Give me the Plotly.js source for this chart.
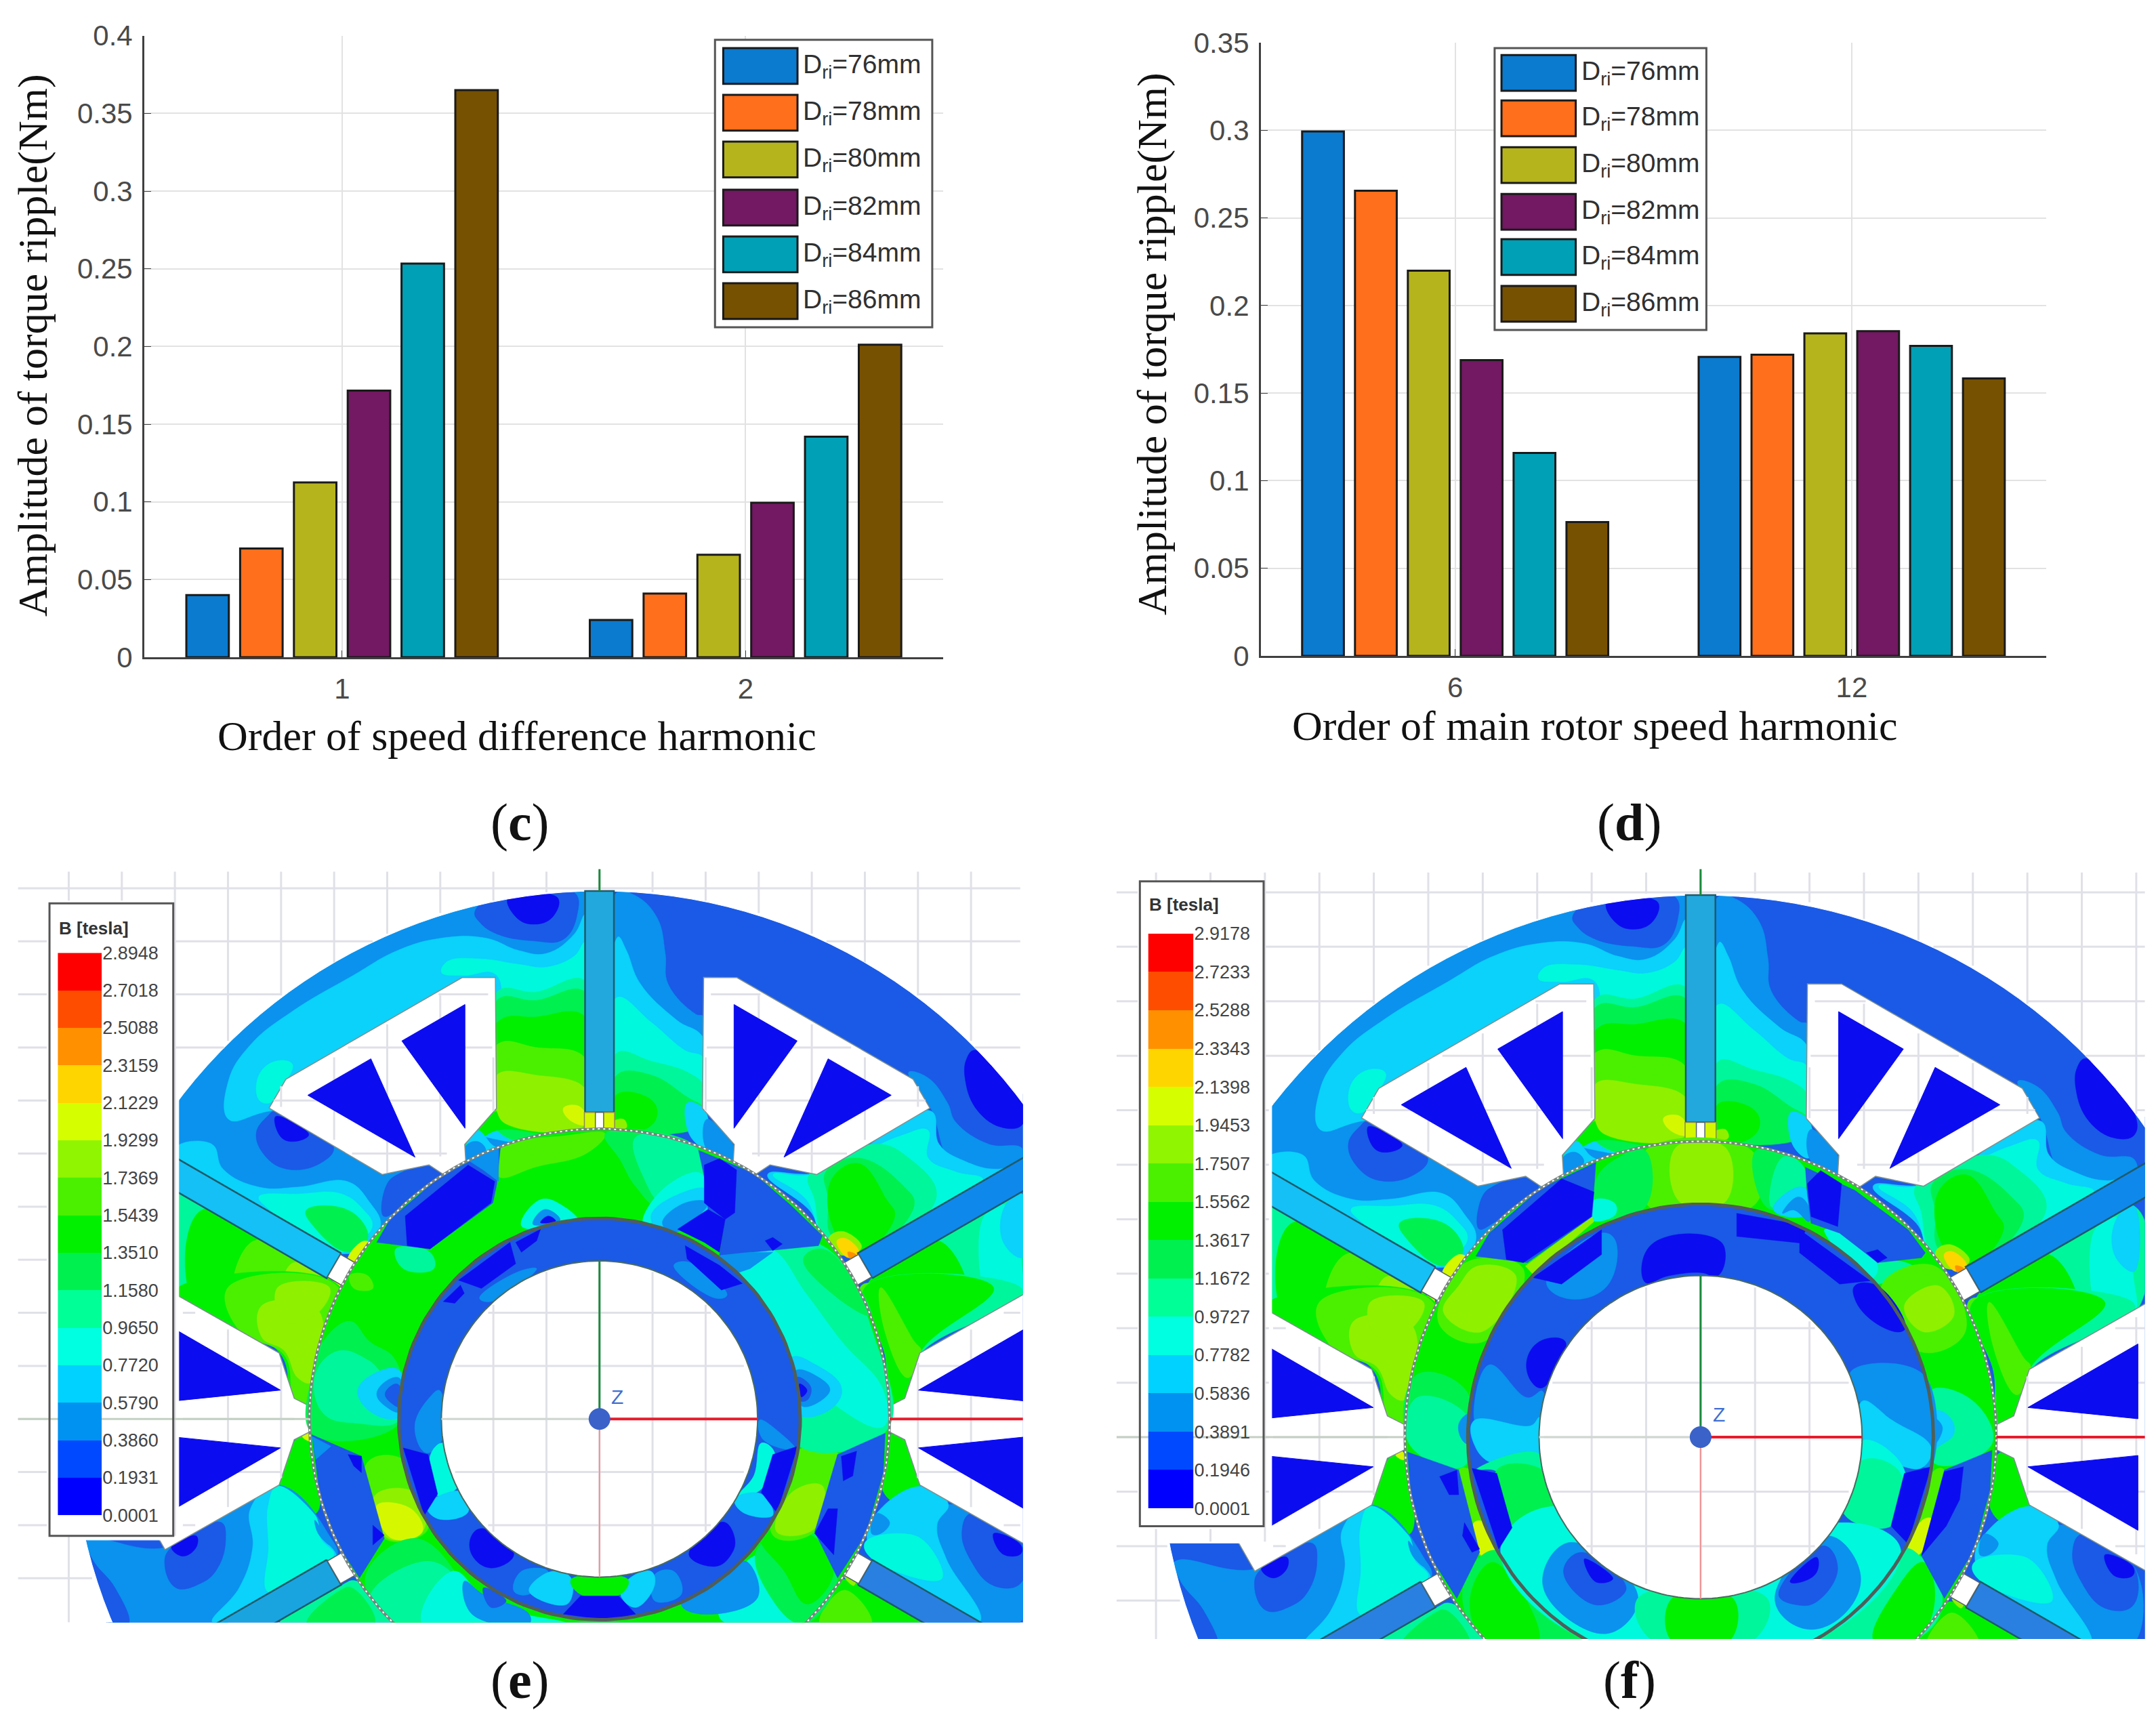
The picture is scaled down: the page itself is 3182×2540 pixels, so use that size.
<!DOCTYPE html>
<html>
<head>
<meta charset="utf-8">
<script src="https://cdn.plot.ly/plotly-3.0.1.min.js"></script>
<style>body{margin:0;background:#fff}</style>
</head>
<body>
<div id="chart" style="width:3182px;height:2540px"></div>
<script>
// bar charts
const driLabels=['D<sub>ri</sub>=76mm','D<sub>ri</sub>=78mm','D<sub>ri</sub>=80mm','D<sub>ri</sub>=82mm','D<sub>ri</sub>=84mm','D<sub>ri</sub>=86mm'];
const barColors=['#0a7bcf','#ff6f1c','#b6b41d','#731862','#00a0b6','#775102'];
const ordersC=['1','2'];
const ripple76C=[0.040,0.024];
const ripple78C=[0.070,0.041];
const ripple80C=[0.1125,0.066];
const ripple82C=[0.1716,0.0994];
const ripple84C=[0.2534,0.142];
const ripple86C=[0.365,0.2012];
const ordersD=['6','12'];
const ripple76D=[0.2993,0.1706];
const ripple78D=[0.2655,0.1719];
const ripple80D=[0.2198,0.1841];
const ripple82D=[0.1688,0.1853];
const ripple84D=[0.1158,0.1769];
const ripple86D=[0.0764,0.1584];

// flux density scale, one colour per band
const bandColors=['#0c0cf0','#1a5ae6','#0a92ee','#0ad2fa','#00f8dc','#00f69a','#00f050','#00f000','#4af000','#8ff000','#d5f800','#ffd500','#ff9000','#ff4d00','#ff0000'];
const scaleColors=['#0000ff','#0049ff','#0092f0','#00d2ff','#00ffe0','#00ff96','#00f050','#00f000','#4af000','#8ff500','#d5ff00','#ffd500','#ff9000','#ff4d00','#ff0000'];
const scaleE=['0.0001','0.1931','0.3860','0.5790','0.7720','0.9650','1.1580','1.3510','1.5439','1.7369','1.9299','2.1229','2.3159','2.5088','2.7018','2.8948'];
const scaleF=['0.0001','0.1946','0.3891','0.5836','0.7782','0.9727','1.1672','1.3617','1.5562','1.7507','1.9453','2.1398','2.3343','2.5288','2.7233','2.9178'];

const statorUpperLeft=[
[2, 0,780, 300,430, 700,150, 1200,30, 1480,30, 1480,1000, 700,1300, 0,1000],
[1, 1080,110, 1180,40, 1440,40, 1450,120, 1400,210, 1290,215, 1160,190, 1100,150],
[0, 1200,60, 1380,60, 1360,130, 1290,155, 1230,130],
[3, 190,860, 190,720, 270,590, 420,470, 640,340, 800,250, 960,205, 1120,205, 1240,250, 1340,260, 1440,190, 1480,120, 1480,900, 1000,900, 700,800, 340,830],
[4, 960,330, 980,290, 1100,280, 1240,300, 1340,310, 1440,270, 1480,220, 1480,900, 1160,900, 1160,340, 1040,340],
[4, 300,700, 360,650, 420,660, 400,720, 340,800, 300,790],
[5, 1160,400, 1300,400, 1480,360, 1480,900, 1160,900],
[6, 1160,430, 1300,430, 1480,400, 1480,900, 1160,900],
[7, 1160,510, 1300,490, 1480,490, 1480,900, 1160,900, 1050,960],
[8, 1160,590, 1300,600, 1480,640, 1480,900, 1160,830, 1100,870],
[9, 1160,700, 1300,700, 1480,750, 1480,880, 1200,880, 1160,830],
[10, 1400,820, 1450,810, 1480,840, 1480,880, 1420,860],
[3, 1050,950, 1090,900, 1140,950, 1170,975, 1050,1030],
[2, 1045,960, 1090,940, 1120,975, 1045,1025],
[1, 290,910, 330,850, 360,830, 570,960, 520,1020, 400,1040, 320,990],
[0, 360,850, 480,915, 430,940, 380,925],
[3, 0,960, 130,950, 170,1040, 300,1105, 440,1105, 620,1085, 700,1160, 740,1240, 700,1310, 590,1345, 0,1015],
[4, 300,1140, 440,1130, 600,1130, 680,1190, 710,1240, 680,1290, 600,1340, 330,1180],
[6, 470,1190, 600,1180, 680,1240, 690,1300, 620,1340, 500,1250],
[10, 620,1370, 680,1300, 715,1320, 650,1390],
[1, 760,1100, 800,1060, 920,1030, 960,1060, 800,1190, 750,1210],
[5, 0,1130, 560,1440, 570,1568, 0,1568],
[7, 90,1190, 560,1440, 560,1568, 90,1568],
[8, 280,1300, 560,1440, 560,1568, 220,1568],
[9, 420,1380, 560,1450, 540,1568, 390,1568],
[10, 530,1460, 590,1450, 570,1540, 530,1530]];
const statorUpperRight=[
[2, 75,40, 140,50, 220,130, 250,260, 260,370, 360,480, 390,490, 390,840, 75,840],
[3, 80,200, 110,250, 160,370, 290,500, 390,570, 390,840, 75,840],
[4, 75,420, 200,510, 320,610, 390,640, 390,840, 75,840],
[5, 75,620, 200,650, 330,690, 390,740, 390,840, 75,840],
[6, 75,700, 200,700, 330,780, 390,820, 390,880, 75,880],
[7, 75,770, 200,790, 220,850, 170,900, 75,900],
[9, 60,870, 100,860, 110,890, 60,895],
[3, 330,800, 395,830, 395,960, 340,920],
[2, 400,860, 500,960, 510,1020, 400,970],
[0, 1340,640, 1370,610, 1540,800, 1540,880, 1470,890, 1380,830, 1335,720],
[2, 1130,690, 1200,710, 1270,800, 1300,870, 1420,950, 1540,965, 1540,1030, 1300,1030, 1210,820],
[3, 1210,830, 1240,950, 1330,1010, 1450,1040, 1540,1015, 960,1350, 820,1310, 780,1200, 620,1060, 820,1050],
[4, 1100,920, 1200,900, 1200,1000, 1300,1050, 1400,1080, 960,1350, 830,1300, 760,1150, 640,1060, 780,1060],
[5, 770,1060, 1010,950, 1130,1000, 1230,1140, 970,1340, 830,1300, 790,1150],
[6, 830,1050, 950,1000, 1110,1100, 1150,1170, 970,1340, 850,1280, 840,1150],
[7, 850,1080, 950,1020, 1050,1150, 1080,1210, 960,1340, 870,1280],
[9, 840,1290, 890,1265, 960,1320, 920,1350, 860,1340],
[11, 870,1300, 900,1290, 950,1340, 910,1360],
[12, 910,1340, 940,1350, 920,1365],
[5, 1000,1440, 1540,1130, 1540,1510, 1200,1568, 950,1568],
[7, 980,1460, 1240,1300, 1340,1560, 1000,1568],
[4, 1400,1215, 1480,1170, 1540,1400, 1540,1510, 1440,1568],
[3, 1480,1170, 1540,1130, 1540,1360, 1470,1300],
[8, 960,1460, 1040,1470, 1060,1568, 970,1568]];
const statorLowerLeft=[
[7, 430,0, 1150,0, 1040,520, 940,490, 880,290, 430,40],
[8, 650,0, 1140,0, 1030,520, 950,500, 900,300, 700,190],
[9, 800,80, 1050,100, 1020,420, 960,400, 900,280, 800,220],
[9, 870,0, 1100,0, 1040,120, 900,150],
[7, 945,680, 1000,640, 1030,700, 1040,1000, 860,880, 900,800],
[10, 980,660, 1010,645, 1015,680],
[2, 15,1130, 380,1150, 860,870, 1100,1100, 1130,1200, 620,1490, 130,1490],
[1, 370,1220, 400,1150, 620,1040, 640,1120, 600,1250, 530,1310, 420,1330],
[0, 400,1150, 510,1100, 510,1150, 450,1190],
[1, 15,1135, 60,1220, 150,1330, 210,1490, 130,1490],
[3, 750,980, 860,880, 1060,1100, 1130,1190, 1100,1210, 850,1360, 620,1490, 580,1480, 700,1330, 760,1150],
[4, 830,960, 870,880, 1030,1000, 1050,1040, 1060,1110, 1120,1180, 1090,1210, 830,1350, 830,1150],
[2, 1035,1030, 1080,1100, 1100,1140, 1050,1090],
[5, 880,1490, 1150,1320, 1220,1300, 1400,1490],
[6, 1000,1490, 1150,1340, 1200,1330, 1300,1490]];
const statorLowerRight=[
[5, 830,0, 1520,0, 1520,50, 1080,290, 1010,500, 940,540, 920,300],
[7, 830,0, 1400,0, 1080,280, 1020,480, 950,530, 920,300],
[8, 900,0, 1050,240, 1080,280, 1020,400, 920,200],
[7, 945,650, 1005,670, 1075,875, 1000,960, 910,900],
[2, 1160,970, 1520,1130, 1520,1480, 1340,1490, 1170,1200],
[1, 1260,1080, 1300,1000, 1520,1130, 1520,1310, 1400,1320, 1300,1210],
[0, 1400,1090, 1520,1140, 1520,1180, 1440,1180],
[3, 840,1120, 900,980, 1090,880, 1200,960, 1150,1050, 1190,1200, 1340,1480, 1100,1480],
[4, 830,1130, 1000,1090, 1100,1130, 1170,1290, 860,1200],
[2, 880,1000, 940,1040, 900,1090, 860,1090],
[7, 555,1490, 700,1300, 800,1310, 1090,1480],
[8, 630,1490, 740,1340, 860,1490],
[9, 740,1280, 790,1290, 780,1320]];

const rotorOuterE=[
[8, 520,120, 700,75, 800,70, 750,130, 620,170, 520,200],
[6, 800,70, 1040,110, 1060,250, 950,300, 880,230, 840,150],
[5, 880,80, 1040,115, 1060,250, 960,290, 900,200],
[4, 950,240, 1050,190, 1065,280, 950,330, 900,340],
[3, 920,320, 1000,250, 1070,240, 1070,300, 1000,330, 960,380],
[2, 950,340, 1010,280, 1070,280, 1000,360, 975,370],
[4, 580,350, 630,270, 690,290, 730,340],
[2, 610,345, 640,300, 680,325, 680,335],
[0, 630,340, 650,320, 670,335],
[5, 250,420, 340,430, 350,480, 270,480],
[8, 130,500, 175,500, 190,540, 140,540],
[6, 30,780, 60,700, 130,640, 180,700, 250,760, 260,950, 30,980],
[5, 40,800, 100,730, 180,760, 220,800, 260,800, 260,940, 150,950, 60,920],
[3, 150,850, 210,790, 260,790, 260,930, 190,920],
[2, 200,860, 235,815, 262,815, 262,915, 225,900],
[1, 222,860, 250,830, 262,840, 262,900, 240,890],
[8, 175,1070, 270,1060, 330,1230, 330,1280, 220,1300],
[9, 195,1170, 300,1160, 325,1270, 230,1300],
[10, 200,1200, 290,1210, 320,1280, 240,1300],
[6, 170,1420, 300,1300, 420,1430, 450,1560, 260,1560],
[5, 180,1480, 340,1370, 430,1460, 440,1560, 260,1560],
[4, 320,1560, 400,1400, 500,1500, 700,1560],
[2, 430,1430, 480,1470, 600,1530, 600,1560, 450,1530],
[1, 480,1450, 540,1490, 500,1510],
[4, 1100,1540, 1200,1350, 1280,1420, 1300,1560],
[2, 1130,1400, 1170,1370, 1200,1480, 1050,1530, 1000,1500],
[6, 1200,1330, 1350,1280, 1410,1420, 1320,1560, 1230,1470],
[7, 1210,1300, 1340,1290, 1400,1400, 1330,1500, 1270,1400],
[8, 1310,1030, 1410,1040, 1350,1280, 1240,1290],
[9, 1290,1160, 1370,1140, 1350,1270, 1250,1280],
[5, 1180,430, 1370,410, 1510,700, 1540,970, 1310,1020, 1290,780, 1180,540],
[6, 1370,420, 1460,520, 1500,620, 1400,560, 1320,450],
[4, 1140,490, 1230,420, 1330,560, 1420,700, 1530,850, 1530,960, 1410,900, 1300,760, 1190,560],
[3, 1290,750, 1350,770, 1420,840, 1400,900, 1320,930, 1300,900],
[2, 1300,790, 1360,810, 1390,850, 1330,900, 1310,890],
[1, 1305,810, 1340,840, 1330,880, 1310,880],
[0, 1310,830, 1330,850, 1315,870]];
const blocksOuterE=[
[1, 525,110, 515,225, 505,280, 340,420, 200,400, 235,330, 360,190, 500,120],
[0, 440,165, 510,215, 500,280, 340,420, 280,410, 275,320],
[2, 440,150, 520,110, 520,215, 480,180],
[1, 1045,120, 1190,190, 1290,290, 1370,380, 1360,410, 1180,430, 1100,440, 1115,330, 1070,300, 1060,200],
[0, 1060,165, 1100,145, 1145,180, 1140,310, 1115,330, 1060,280],
[0, 990,360, 1070,300, 1115,330, 1100,430, 1060,400],
[0, 1220,395, 1240,385, 1265,405, 1240,425],
[2, 1100,440, 1180,430, 1240,430, 1180,480, 1130,500],
[1, 30,985, 160,1050, 220,1300, 155,1420, 90,1330, 40,1180],
[0, 125,1045, 160,1050, 160,1100, 140,1080],
[0, 190,1260, 220,1290, 190,1320],
[2, 30,990, 80,1020, 40,1060],
[1, 1535,980, 1410,1045, 1350,1280, 1410,1420, 1490,1290, 1530,1100],
[0, 1420,1050, 1460,1035, 1450,1110, 1425,1125],
[0, 1385,1210, 1410,1210, 1400,1350, 1350,1285]];
const rotorInnerE=[
[2, 470,570, 570,490, 620,480, 500,580],
[2, 980,470, 1020,460, 1120,560, 1090,570],
[2, 300,960, 340,870, 365,850, 372,1000, 330,1040],
[2, 1205,940, 1215,1000, 1300,1030, 1260,980],
[4, 340,1050, 375,1010, 420,1130, 360,1170],
[4, 1210,1010, 1245,1040, 1210,1150, 1150,1170, 1190,1110],
[3, 330,1200, 365,1170, 425,1160, 440,1220, 360,1240],
[3, 1140,1180, 1210,1165, 1240,1230, 1160,1220],
[0, 450,1290, 480,1270, 560,1350, 500,1390, 450,1350],
[0, 1020,1350, 1110,1250, 1140,1300, 1130,1350, 1090,1385],
[2, 580,1400, 650,1400, 600,1470, 560,1460],
[2, 930,1410, 980,1400, 1000,1470, 930,1490],
[3, 600,1460, 660,1400, 710,1420, 700,1500],
[3, 860,1425, 920,1400, 930,1440, 880,1510, 840,1470],
[7, 710,1425, 860,1425, 840,1470, 735,1470]];
const blocksInnerE=[
[0, 415,515, 550,400, 565,465, 475,540],
[0, 375,580, 420,530, 430,555, 405,585],
[0, 1010,410, 1100,470, 1160,525, 1105,545, 1015,450],
[0, 565,400, 630,360, 620,395, 580,430],
[0, 270,1025, 335,1045, 360,1165, 325,1230],
[0, 1240,1045, 1305,1020, 1255,1225, 1210,1160],
[0, 735,1475, 835,1475, 880,1530, 800,1560, 690,1530]];

const rotorOuterF=[
[8, 640,70, 920,70, 930,230, 650,240],
[9, 720,60, 850,60, 850,225, 730,225],
[6, 930,70, 1050,110, 1060,200, 985,250, 950,230],
[5, 1000,90, 1050,110, 1060,180, 1000,230, 970,240],
[3, 975,245, 1040,180, 1065,190, 1065,260, 1010,270],
[2, 1000,260, 1040,210, 1065,230, 1070,285, 1030,250],
[6, 510,160, 570,90, 640,70, 640,240, 520,270],
[4, 505,220, 560,230, 560,265, 500,280],
[8, 130,460, 190,400, 320,430, 215,650, 100,600],
[9, 150,480, 200,420, 300,450, 210,620, 110,560],
[6, 20,960, 40,750, 170,800, 165,1030],
[5, 20,960, 40,820, 175,880, 160,1030],
[2, 150,900, 175,870, 175,960, 160,950],
[8, 150,1040, 180,1040, 245,1300, 205,1300],
[10, 190,1200, 220,1200, 245,1300, 210,1300],
[5, 1240,410, 1340,420, 1270,470, 1240,470],
[8, 1260,480, 1400,420, 1480,620, 1360,680],
[9, 1320,540, 1410,480, 1450,570, 1370,620],
[5, 1385,800, 1500,830, 1550,960, 1400,1020],
[3, 1400,860, 1440,880, 1450,930, 1400,980, 1390,1010],
[2, 1395,880, 1420,910, 1400,960],
[4, 1110,310, 1150,320, 1250,420, 1230,460],
[8, 1400,1040, 1425,1040, 1350,1300, 1325,1300],
[10, 1370,1190, 1395,1190, 1355,1300, 1330,1290],
[6, 160,1430, 210,1300, 270,1290, 480,1560, 230,1560],
[7, 180,1430, 240,1320, 360,1560, 220,1560],
[5, 1360,1300, 1420,1440, 1360,1560, 1090,1560, 1310,1280],
[7, 1370,1320, 1400,1430, 1350,1560, 1240,1560, 1300,1400]];
const blocksOuterF=[
[9, 325,420, 500,270, 505,285, 345,445],
[1, 510,105, 500,270, 330,410, 195,390, 230,320, 360,180],
[0, 420,155, 505,195, 498,270, 320,410, 275,400, 265,310],
[1, 1060,120, 1190,190, 1330,310, 1375,380, 1365,395, 1250,410, 1150,320, 1075,290, 1065,200],
[0, 1065,170, 1100,130, 1155,170, 1145,300, 1075,270],
[0, 1220,380, 1250,370, 1275,395, 1250,410],
[1, 15,985, 150,1040, 205,1290, 145,1430, 70,1300, 25,1130],
[0, 100,1060, 145,1040, 150,1115, 125,1115],
[0, 165,1200, 205,1280, 185,1290, 160,1240],
[1, 1550,980, 1425,1040, 1365,1300, 1425,1430, 1510,1290, 1545,1100],
[0, 1425,1045, 1475,1030, 1465,1130, 1430,1210, 1365,1300, 1395,1170]];
const rotorInnerF=[
[0, 640,470, 640,380, 700,330, 830,340, 850,380, 830,450, 785,440, 700,450],
[0, 1190,480, 1250,480, 1330,600, 1310,620, 1240,590, 1190,520],
[0, 330,700, 370,645, 430,650, 370,790, 340,770],
[2, 190,880, 230,720, 330,820, 370,800, 360,900, 200,900],
[2, 380,470, 520,320, 560,340, 540,480, 440,520],
[2, 1180,740, 1370,750, 1390,1030, 1370,1030, 1280,880, 1200,830],
[3, 190,960, 190,890, 340,905, 362,880, 362,1000, 240,1020],
[3, 1210,830, 1290,890, 1390,970, 1370,1030, 1320,1030, 1210,950],
[5, 195,1040, 360,990, 400,1120, 290,1210, 250,1045],
[6, 250,1040, 370,1040, 420,1170, 290,1210],
[4, 1210,950, 1320,1040, 1285,1210, 1180,1150],
[5, 1210,1010, 1310,1050, 1285,1210, 1160,1170],
[4, 260,1280, 400,1150, 790,1430, 1150,1200, 1310,1280, 1090,1560, 490,1560],
[2, 370,1380, 440,1260, 620,1420, 560,1530, 460,1510],
[1, 425,1350, 470,1290, 590,1400, 510,1450],
[0, 480,1310, 555,1370, 510,1380],
[2, 980,1430, 1120,1240, 1205,1360, 1150,1490, 1050,1520],
[1, 990,1420, 1110,1270, 1145,1340, 1090,1440, 1040,1450],
[0, 1020,1380, 1090,1305, 1090,1350, 1050,1380],
[5, 620,1430, 960,1430, 920,1560, 660,1560],
[7, 710,1430, 870,1430, 860,1560, 710,1560]];
const blocksInnerF=[
[0, 880,260, 1030,290, 1070,290, 1045,350, 880,330],
[0, 1045,310, 1230,465, 1150,475, 1045,380],
[0, 345,455, 525,310, 525,385, 420,475],
[0, 185,1035, 250,1050, 290,1215, 255,1280],
[0, 1320,1050, 1390,1030, 1340,1270, 1285,1210]];

// machine outline, radial and sideways positions along a pole axis
const slotOutline=[[210,-9],[222,-15],[233,-48],[316,-95],[328,-74],[328,74],[316,95],[233,48],[222,15],[210,9]];
const magnetUpper=[[310,66],[310,13],[232,21]];
const magnetLower=[[310,-66],[310,-13],[232,-21]];
const slotAngles=[0,60,120,180,240,300];
const coilAngles=[90,30,150,210,330,270];
const coilColorsE=['#22a8dc','#0f88ec','#14c0f5','#19a4e0','#2a80e0','#2a80e0'];
const coilColorsF=['#22a8dc','#0f88ec','#14c0f5','#2a80e0','#2a80e0','#2a80e0'];

const S=3182/1568, W=3182, H=2540;
const xDom=(a,b)=>[a*S/W,b*S/W];
const yDom=(top,bot)=>[1-bot*S/H,1-top*S/H];
const px=v=>v*S/W;
const py=v=>1-v*S/H;

// crop pixels to machine coordinates
const cropUL=(x,y)=>[x/4.97-308,391-y/4.97];
const cropUR=(x,y)=>[x/4.97-2.5,391-y/4.97];
const cropLL=(x,y)=>[x/6.09-377,95.6-y/6.09];
const cropLR=(x,y)=>[x/6.09+56.7,95.6-y/6.09];
const cropRotorE=(x,y)=>[(x-785)/3.61,(937-y)/4.18];
const cropRotorF=(x,y)=>[(x-785)/3.704,(940-y)/4.289];

const panelE={xa:'x3',ya:'y3',read:cropRotorE,outer:rotorOuterE,outerBlocks:blocksOuterE,inner:rotorInnerE,innerBlocks:blocksInnerE,
    coils:coilColorsE,hole:115,iface:146,bore:211,xr:[-423,308],yr:[-148,400],cutX:-306,cutY:-88,box:[-400,-310,-85,375]};
const panelF={xa:'x4',ya:'y4',read:cropRotorF,outer:rotorOuterF,outerBlocks:blocksOuterF,inner:rotorInnerF,innerBlocks:blocksInnerF,
    coils:coilColorsF,hole:114.5,iface:165,bore:209.6,xr:[-414,315],yr:[-143,402.5],cutX:-304,cutY:-75,box:[-398,-310,-63,394]};
const R=384;

const rad=d=>d*Math.PI/180;
const local=(u,v,deg)=>[u*Math.cos(rad(deg))-v*Math.sin(rad(deg)),u*Math.sin(rad(deg))+v*Math.cos(rad(deg))];
const polarPt=(r,deg)=>[r*Math.cos(rad(deg)),r*Math.sin(rad(deg))];
const stepColors=[];
scaleColors.forEach((c,i)=>{stepColors.push([i/15,c]);stepColors.push([(i+1)/15,c]);});

const arc=(r,a,b,step)=>{
    let pts=[];
    let n=Math.ceil(Math.abs(b-a)/step);
    for(let i=0;i<=n;i++) pts.push(polarPt(r,a+(b-a)*i/n));
    return pts;
};
const sector=(r0,r1,a,b)=>arc(r1,a,b,2).concat(arc(r0,b,a,2));

const polys=(p,list,fill,lineColor,lineWidth)=>{
    let x=[],y=[];
    list.forEach(pts=>{
        pts.forEach(q=>{x.push(q[0]);y.push(q[1]);});
        x.push(pts[0][0]);y.push(pts[0][1]);
        x.push(null);y.push(null);
    });
    return {type:'scatter',mode:'lines',x:x,y:y,xaxis:p.xa,yaxis:p.ya,fill:'toself',fillcolor:fill,hoverinfo:'skip',showlegend:false,
        line:{color:lineColor||fill,width:lineWidth===undefined?1:lineWidth}};
};
const curve=(p,pts,color,width,dash)=>({type:'scatter',mode:'lines',x:pts.map(q=>q?q[0]:null),y:pts.map(q=>q?q[1]:null),
    xaxis:p.xa,yaxis:p.ya,hoverinfo:'skip',showlegend:false,line:{color:color,width:width,dash:dash||'solid'}});

// one traced region as a smooth filled shape, kept inside maxR when given
const region=(p,entry,read,maxR,straight)=>{
    let x=[],y=[];
    for(let i=1;i<entry.length;i+=2){
        let q=read(entry[i],entry[i+1]);
        if(maxR){
            let r=Math.hypot(q[0],q[1]);
            if(r>maxR) q=[q[0]*maxR/r,q[1]*maxR/r];
        }
        x.push(q[0]);y.push(q[1]);
    }
    x.push(x[0]);y.push(y[0]);
    let c=bandColors[entry[0]];
    return {type:'scatter',mode:'lines',x:x,y:y,xaxis:p.xa,yaxis:p.ya,fill:'toself',fillcolor:c,hoverinfo:'skip',showlegend:false,
        line:{color:c,width:0.5,shape:straight?'linear':'spline',smoothing:1.2}};
};

const inSlot=(x,y)=>slotAngles.some(a=>{
    let u=x*Math.cos(rad(a))+y*Math.sin(rad(a));
    let v=Math.abs(-x*Math.sin(rad(a))+y*Math.cos(rad(a)));
    if(u<222||u>326) return false;
    return u<233?v<15+(u-222)*3:v<48+(u-233)*0.5;
});
// background grid, open() says where it shows
const gridTrace=(p,open)=>{
    const spacing=38.6;
    let pts=[];
    for(let k=-11;k<=11;k++){
        let v=k*spacing;
        if(v>p.yr[0]&&v<p.yr[1]){
            for(let x=p.xr[0];x<=p.xr[1];x+=3) pts.push(open(x,v)?[x,v]:null);
            pts.push(null);
        }
        if(v>p.xr[0]&&v<p.xr[1]){
            for(let y=p.yr[0];y<=p.yr[1];y+=3) pts.push(open(v,y)?[v,y]:null);
            pts.push(null);
        }
    }
    return curve(p,pts,'#e0e0e8',3);
};

const panelTraces=p=>{
    let t=[];
    const leftCut=[[[-900,p.cutY],[p.cutX,p.cutY],[p.cutX,900],[-900,900]]];
    t.push(polys(p,[sector(0,R+4,0,360)],bandColors[1]));
    statorUpperLeft.forEach(e=>t.push(region(p,e,cropUL)));
    statorUpperRight.forEach(e=>t.push(region(p,e,cropUR)));
    statorLowerLeft.forEach(e=>t.push(region(p,e,cropLL)));
    statorLowerRight.forEach(e=>t.push(region(p,e,cropLR)));
    t.push(polys(p,[sector(R,900,0,360)],'#ffffff'));
    t.push(polys(p,slotAngles.map(a=>slotOutline.map(q=>local(q[0],q[1],a))),'#ffffff','#7f9090',1.5));
    t.push(gridTrace(p,(x,y)=>x>p.cutX&&inSlot(x,y)));
    coilAngles.forEach((a,i)=>{
        t.push(polys(p,[[[223,-10.5],[R,-10.5],[R,10.5],[223,10.5]].map(q=>local(q[0],q[1],a))],p.coils[i],'#1f5a6a',2.5));
        let half=a===90?3:9.5;
        if(a===90) t.push(polys(p,[[[209,-11],[223,-11],[223,11],[209,11]].map(q=>local(q[0],q[1],a))],bandColors[10],'#8a8a50',1.5));
        t.push(polys(p,[[[209,-half],[223,-half],[223,half],[209,half]].map(q=>local(q[0],q[1],a))],'#ffffff','#55666a',1.5));
    });
    let magnets=[];
    slotAngles.forEach(a=>{
        magnets.push(magnetUpper.map(q=>local(q[0],q[1],a)));
        magnets.push(magnetLower.map(q=>local(q[0],q[1],a)));
    });
    t.push(polys(p,magnets,bandColors[0]));
    t.push(polys(p,leftCut,'#ffffff'));
    t.push(gridTrace(p,(x,y)=>{
        if(x>p.box[0]&&x<p.box[1]&&y>p.box[2]&&y<p.box[3]) return false;
        return Math.hypot(x,y)>R||(x<p.cutX&&y>p.cutY);
    }));

    // rotor rings, outer first then inner
    t.push(polys(p,[sector(p.iface-2,p.bore,0,360)],bandColors[7]));
    p.outer.forEach(e=>t.push(region(p,e,p.read,p.bore)));
    p.outerBlocks.forEach(e=>t.push(region(p,e,p.read,p.bore,true)));
    t.push(polys(p,[sector(p.hole,p.iface,0,360)],bandColors[1]));
    p.inner.forEach(e=>t.push(region(p,e,p.read,p.iface)));
    p.innerBlocks.forEach(e=>t.push(region(p,e,p.read,p.iface,true)));
    t.push(polys(p,[sector(0,p.hole,0,360)],'#ffffff','#ffffff',0));
    t.push(gridTrace(p,(x,y)=>Math.hypot(x,y)<p.hole-1));
    t.push(curve(p,arc(p.hole,0,360,2),'#4a6a60',2));
    t.push(curve(p,arc(p.iface,0,360,2),'#4f5f58',5));
    t.push(curve(p,arc(p.bore,0,360,2),'#77837f',4));
    t.push(curve(p,arc(p.bore,0,360,2),'#ffffff',2,'3px,5px'));
    t.push(curve(p,[[p.xr[0],0],[-p.bore,0]],'#c4d0c4',3));
    t.push(curve(p,[[-p.hole,0],[0,0]],'#d0d8d0',3));
    t.push(curve(p,[[0,p.hole],[0,0]],'#1a8a3a',3));
    t.push(curve(p,[[0,p.yr[1]],[0,R]],'#1a8a3a',3));
    t.push(curve(p,[[0,0],[0,-p.hole]],'#f09090',2));
    t.push(curve(p,[[0,0],[p.hole,0]],'#e81c2c',4));
    t.push(curve(p,[[p.bore,0],[p.xr[1],0]],'#e81c2c',4));
    t.push({type:'scatter',mode:'markers',x:[0],y:[0],xaxis:p.xa,yaxis:p.ya,hoverinfo:'skip',showlegend:false,marker:{size:32,color:'#3a62c8'}});
    return t;
};

const barTraces=(cats,series,xa,ya)=>series.map((vals,i)=>({type:'bar',x:cats,y:vals,xaxis:xa,yaxis:ya,showlegend:false,
    marker:{color:barColors[i],line:{color:'#1a1a1a',width:3}}}));

const scaleTrace=(xa,ya)=>({type:'heatmap',x:[0],y:scaleColors.map((c,i)=>i),z:scaleColors.map((c,i)=>[i+0.5]),xaxis:xa,yaxis:ya,
    zmin:0,zmax:15,colorscale:stepColors,showscale:false,hoverinfo:'skip'});

const data=[].concat(
    barTraces(ordersC,[ripple76C,ripple78C,ripple80C,ripple82C,ripple84C,ripple86C],'x','y'),
    barTraces(ordersD,[ripple76D,ripple78D,ripple80D,ripple82D,ripple84D,ripple86D],'x2','y2'),
    panelTraces(panelE),
    panelTraces(panelF),
    [scaleTrace('x5','y5'),scaleTrace('x6','y6')]
);

const tickFont={family:'Liberation Sans, Arial, sans-serif',size:42,color:'#4a4a4a'};
const titleFont={family:'Liberation Serif, Times New Roman, serif',size:62,color:'#111111'};
const catAxis=(dom,anchor)=>({domain:dom,anchor:anchor,type:'category',range:[-0.49,1.49],tickfont:tickFont,showgrid:true,gridcolor:'#e2e2e2',gridwidth:2,
    showline:true,linecolor:'#404040',linewidth:3,ticks:'inside',ticklen:10,tickcolor:'#404040',zeroline:false,ticklabelstandoff:8});
const valAxis=(dom,anchor,max)=>({domain:dom,anchor:anchor,range:[0,max],dtick:0.05,tick0:0,tickfont:tickFont,showgrid:true,gridcolor:'#e2e2e2',gridwidth:2,
    showline:true,linecolor:'#404040',linewidth:3,ticks:'inside',ticklen:10,tickcolor:'#404040',zeroline:false,ticklabelstandoff:6});
const hidden=(dom,anchor,range)=>({domain:dom,anchor:anchor,range:range,visible:false,fixedrange:true});
const scaleTicks=labels=>({tickvals:labels.map((l,i)=>i-0.5),ticktext:labels,side:'right',showgrid:false,zeroline:false,showline:false,ticks:'',
    tickfont:{family:'Liberation Sans, Arial, sans-serif',size:27,color:'#444444'},range:[-0.5,14.5]});

const shapes=[];
const annotations=[];
const addLegend=(left,right,top,bottom,swatchL,swatchR,textX,rows)=>{
    shapes.push({type:'rect',xref:'paper',yref:'paper',x0:px(left),x1:px(right),y0:py(bottom),y1:py(top),fillcolor:'#ffffff',line:{color:'#555555',width:3},layer:'above'});
    rows.forEach((rowY,i)=>{
        shapes.push({type:'rect',xref:'paper',yref:'paper',x0:px(swatchL),x1:px(swatchR),y0:py(rowY+13),y1:py(rowY-13),fillcolor:barColors[i],line:{color:'#1a1a1a',width:3},layer:'above'});
        annotations.push({xref:'paper',yref:'paper',x:px(textX),y:py(rowY),xanchor:'left',yanchor:'middle',showarrow:false,text:driLabels[i],
            font:{family:'Liberation Sans, Arial, sans-serif',size:39,color:'#303030'}});
    });
};
addLegend(520,678,29,238,526,580,583,[48,82,116,151,185,219]);
addLegend(1087,1241,35,240,1092,1146,1149,[53,86,120,154,187,221]);

[['Amplitude of torque ripple(Nm)',24,251,-90],['Amplitude of torque ripple(Nm)',838,250,-90],
 ['Order of speed difference harmonic',376,535,0],['Order of main rotor speed harmonic',1160,528,0]].forEach(c=>{
    annotations.push({xref:'paper',yref:'paper',x:px(c[1]),y:py(c[2]),xanchor:'center',yanchor:'middle',showarrow:false,text:c[0],textangle:c[3],font:titleFont});
});
[['c',378,598],['d',1185,598],['e',378,1222],['f',1185,1222]].forEach(c=>{
    annotations.push({xref:'paper',yref:'paper',x:px(c[1]),y:py(c[2]),xanchor:'center',yanchor:'middle',showarrow:false,text:'(<b>'+c[0]+'</b>)',
        font:{family:'Liberation Serif, Times New Roman, serif',size:78,color:'#111111'}});
});

[[36,126,657,1117,42,675],[829,919,641,1110,835,658]].forEach(b=>{
    shapes.push({type:'rect',xref:'paper',yref:'paper',x0:px(b[0]),x1:px(b[1]),y0:py(b[3]),y1:py(b[2]),line:{color:'#555555',width:3},layer:'above'});
    annotations.push({xref:'paper',yref:'paper',x:px(b[4]),y:py(b[5]),xanchor:'left',showarrow:false,text:'<b>B [tesla]</b>',
        font:{family:'Liberation Sans, Arial, sans-serif',size:26,color:'#333333'}});
});
annotations.push({xref:'x3',yref:'y3',x:13,y:16,showarrow:false,text:'Z',font:{family:'Liberation Sans, Arial, sans-serif',size:30,color:'#3f6fd0'}});
annotations.push({xref:'x4',yref:'y4',x:13,y:16,showarrow:false,text:'Z',font:{family:'Liberation Sans, Arial, sans-serif',size:30,color:'#3f6fd0'}});

const layout={
    width:W,height:H,autosize:false,margin:{l:0,r:0,t:0,b:0},paper_bgcolor:'#ffffff',plot_bgcolor:'rgba(0,0,0,0)',
    barmode:'group',bargap:0.2,bargroupgap:0.21,
    xaxis:catAxis(xDom(105,686),'y'),
    yaxis:valAxis(yDom(26,478),'x',0.4),
    xaxis2:catAxis(xDom(917,1488),'y2'),
    yaxis2:valAxis(yDom(31,477),'x2',0.35),
    xaxis3:hidden(xDom(13,744),'y3',panelE.xr),
    yaxis3:hidden(yDom(632,1180),'x3',panelE.yr),
    xaxis4:hidden(xDom(812,1560),'y4',panelF.xr),
    yaxis4:hidden(yDom(632,1192),'x4',panelF.yr),
    xaxis5:hidden(xDom(42,74),'y5',[-0.5,0.5]),
    yaxis5:Object.assign({domain:yDom(693,1102),anchor:'x5'},scaleTicks(scaleE)),
    xaxis6:hidden(xDom(835,868),'y6',[-0.5,0.5]),
    yaxis6:Object.assign({domain:yDom(679,1097),anchor:'x6'},scaleTicks(scaleF)),
    shapes:shapes,
    annotations:annotations
};
Plotly.newPlot('chart',data,layout,{displayModeBar:false,staticPlot:true});
</script>
</body>
</html>
